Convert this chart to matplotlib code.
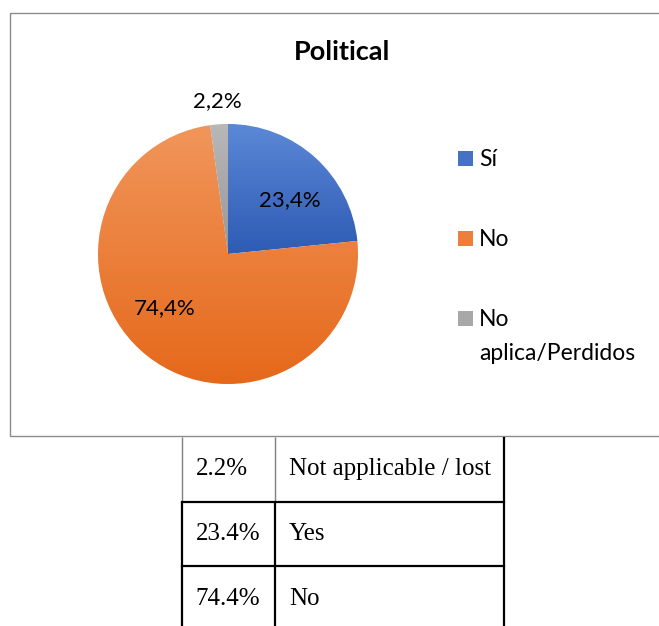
import numpy as np
import matplotlib.pyplot as plt
from matplotlib.colors import LinearSegmentedColormap
from matplotlib.patches import Rectangle

# chart data
categories = ["Sí", "No", "No\naplica/Perdidos"]
values = [23.4, 74.4, 2.2]
title = "Political"

# table under the chart
table_values = [2.2, 23.4, 74.4]
table_labels = ["Not applicable / lost", "Yes", "No"]

# slice styling (top colour, bottom colour)
grad_colors = [("#5b88d6", "#2e5bb4"), ("#f1965b", "#e5681a"), ("#b8b8b8", "#979797")]
label_radius = [0.63, 0.64, 1.18]
label_nudge = [-6.4, -11.0, 0.0]

W, H = 659, 626
fig = plt.figure(figsize=(W / 100, H / 100), dpi=100)
plt.rcParams['font.family'] = ['Lato', 'DejaVu Sans']


def px(x0, y0, w, h):
    # pixel box (top-left origin) -> figure fraction rect
    return [x0 / W, 1 - (y0 + h) / H, w / W, h / H]


# overlay in pixel units for the frame and legend
frame = fig.add_axes([0, 0, 1, 1], zorder=0)
frame.set_xlim(0, W)
frame.set_ylim(H, 0)
frame.axis("off")
frame.add_patch(Rectangle((9.5, 12.5), 700, 423, fill=False, ec="#8c8c8c", lw=1.0))

fig.text(342 / W, 1 - 52 / H, title, ha="center", va="center",
         fontsize=19.5, fontweight="bold", color="#000000")

# pie
ax = fig.add_axes(px(98, 124, 260, 260), zorder=2)
wedges, _ = ax.pie(values, startangle=90, counterclock=False, radius=1,
                   colors=[c[1] for c in grad_colors],
                   wedgeprops=dict(edgecolor="white", linewidth=0.8))
ax.set_xlim(-1, 1)
ax.set_ylim(-1, 1)
ax.set_aspect("equal")
ax.axis("off")

for w, (top, bot) in zip(wedges, grad_colors):
    verts = w.get_patch_transform().transform(w.get_path().vertices)
    y0, y1 = verts[:, 1].min(), verts[:, 1].max()
    cmap = LinearSegmentedColormap.from_list("g", [bot, top])
    grad = np.linspace(0, 1, 256).reshape(-1, 1)
    im = ax.imshow(grad, cmap=cmap, origin="lower", aspect="auto",
                   extent=(-1, 1, y0, y1), zorder=1.5)
    im.set_clip_path(w)
    w.set_facecolor(cmap(0.5))

# percentage labels
for w, v, r, d in zip(wedges, values, label_radius, label_nudge):
    ang = np.deg2rad((w.theta1 + w.theta2) / 2 + d)
    ax.text(r * np.cos(ang), r * np.sin(ang), f"{v:.1f}%".replace(".", ","),
            ha="center", va="center", fontsize=16, color="#000000", zorder=5,
            clip_on=False)

# legend: swatch + label, first text line level with the swatch
for i, (w, lab) in enumerate(zip(wedges, categories)):
    yc = 158 + 80 * i
    frame.add_patch(Rectangle((457.5, yc - 7.5), 15, 15, fc=w.get_facecolor(), ec="none"))
    frame.text(479, yc - 8.5, lab, ha="left", va="top", fontsize=16.5,
               linespacing=1.75, color="#000000")

# table
tax = fig.add_axes(px(182, 437, 322, 194), zorder=1)
n = len(table_values)
tax.set_xlim(0, 1)
tax.set_ylim(n, 0)
tax.axis("off")
split = 93 / 322
for i, (v, lab) in enumerate(zip(table_values, table_labels)):
    light = i == 0
    col = "#7f7f7f" if light else "#000000"
    lw = 1.0 if light else 1.6
    tax.plot([0, 0], [i, i + 1], color=col, lw=lw, clip_on=False, solid_capstyle="butt")
    tax.plot([split, split], [i, i + 1], color=col, lw=lw, clip_on=False, solid_capstyle="butt")
    tax.plot([1, 1], [i, i + 1], color="#000000", lw=1.6, clip_on=False, solid_capstyle="butt")
    if i > 0:
        tax.plot([0, 1], [i, i], color="#000000", lw=1.6, clip_on=False)
    tax.text(0.043, i + 0.5, f"{v:.1f}%", ha="left", va="center",
             fontsize=18, family=["Liberation Serif"], color="#000000")
    tax.text(split + 0.043, i + 0.5, lab, ha="left", va="center",
             fontsize=18, family=["Liberation Serif"], color="#000000")

fig.savefig("out.png", dpi=100)
